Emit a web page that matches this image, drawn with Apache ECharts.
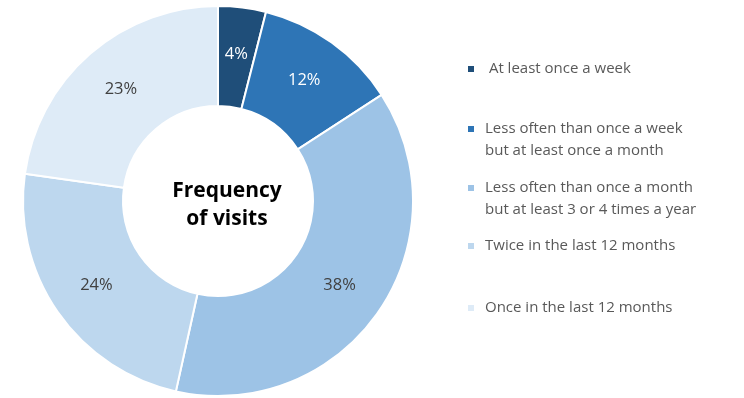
<!DOCTYPE html>
<html><head><meta charset="utf-8">
<script src="https://cdn.jsdelivr.net/npm/echarts@6/dist/echarts.min.js"></script>
<style>html,body{margin:0;padding:0;background:#fff}#c{width:744px;height:398px}</style>
</head><body><div id="c"></div>
<script>
const categories = [' At least once a week','Less often than once a week\nbut at least once a month','Less often than once a month\nbut at least 3 or 4 times a year','Twice in the last 12 months','Once in the last 12 months'];
const values = [4,12,38,24,23];
const colors = ['#1F4E79','#2E75B6','#9DC3E6','#BDD7EE','#DEEBF7'];
const labelColors = ['#ffffff','#ffffff','#404040','#404040','#404040'];
const legendTops = [53, 113, 172, 230, 292];
const FONT = '"Open Sans", Lato, sans-serif';
const chart = echarts.init(document.getElementById('c'));
const legends = categories.map((c,i)=>{
  const two = c.indexOf('\n') >= 0;
  return {
    data:[c], left:461, top:legendTops[i], orient:'vertical',
    icon: two ? 'path://M0,0H8V8H0Z M0,30H8' : 'rect',
    itemWidth:8, itemHeight: two ? 30 : 8, itemGap:0, selectedMode:false,
    textStyle:{color:'#595959', fontSize:15, fontFamily:FONT, lineHeight:22, padding:[0,0,0,5]}
  };
});
chart.setOption({
  animation:false,
  color: colors,
  title:{text:'Frequency\nof visits', left:222, top:172, textAlign:'center',
    textStyle:{fontSize:21, fontWeight:'bold', color:'#000', fontFamily:FONT, lineHeight:28}},
  legend: legends,
  series:[{
    type:'pie', center:[218,201], radius:[95,195], startAngle:90, clockwise:true,
    itemStyle:{borderColor:'#fff', borderWidth:2},
    label:{show:true, position:'inside', formatter:'{c}%', fontSize:16.5, fontFamily:FONT},
    labelLine:{show:false},
    data: categories.map((c,i)=>({name:c, value:values[i], label:{color:labelColors[i]}}))
  }]
});
</script></body></html>
